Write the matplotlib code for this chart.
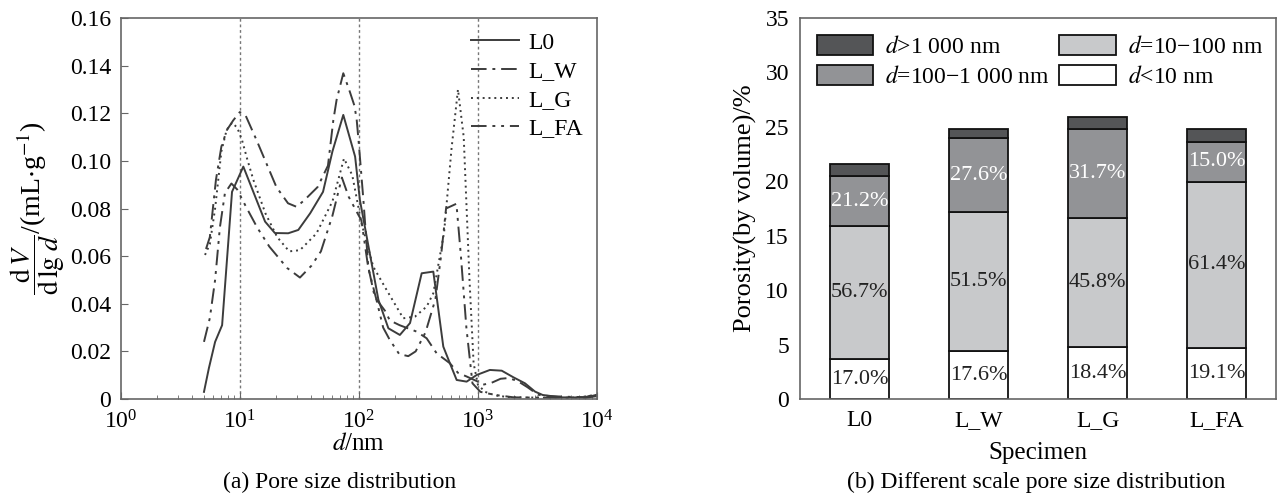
import numpy as np
import matplotlib
matplotlib.use("Agg")
import matplotlib.pyplot as plt
from matplotlib.ticker import LogLocator, FuncFormatter, NullFormatter

plt.rcParams['font.family'] = ['Liberation Serif', 'DejaVu Serif']
plt.rcParams['mathtext.fontset'] = 'stix'

# (a) pore size distribution, dV/dlg d vs d (nm)
l0_d = [5.0, 5.5, 6.2, 7.1, 8.6, 10.7, 16.3, 19.7, 25.5, 31, 39, 50, 60, 74, 93,
        102, 146, 177, 221, 269, 337, 422, 512, 582, 663, 804, 977, 1260, 1585,
        1990, 2485, 3020, 3500, 5000, 8000, 10000]
l0_v = [0.003, 0.013, 0.024, 0.031, 0.087, 0.0976, 0.0745, 0.0697, 0.0696, 0.071,
        0.078, 0.087, 0.104, 0.1193, 0.1018, 0.0836, 0.0416, 0.0297, 0.0269, 0.0319,
        0.0528, 0.0535, 0.022, 0.015, 0.008, 0.0073, 0.0101, 0.0122, 0.0119,
        0.0091, 0.0066, 0.0031, 0.0017, 0.0007, 0.0006, 0.0018]

lw_d = [5.2, 5.6, 6.3, 7.0, 7.8, 8.8, 10, 11.2, 13.8, 20.3, 25.4, 30, 35, 45, 55,
        61, 65, 74, 84, 92, 96, 100, 109, 120, 136, 166, 182, 220, 306, 371, 450,
        582, 680, 800, 980, 1100, 1300, 1550, 1800, 2150, 2600, 3200, 4000, 6000,
        8000, 10000]
lw_v = [0.063, 0.068, 0.092, 0.106, 0.113, 0.117, 0.1205, 0.119, 0.1088, 0.089,
        0.0822, 0.0807, 0.0836, 0.089, 0.098, 0.117, 0.1256, 0.1368, 0.129, 0.123,
        0.117, 0.107, 0.084, 0.0554, 0.0428, 0.037, 0.033, 0.031, 0.0283, 0.0255,
        0.0192, 0.015, 0.011, 0.0095, 0.0075, 0.006, 0.0068, 0.0085, 0.0088,
        0.0076, 0.005, 0.0018, 0.0012, 0.0009, 0.0008, 0.0022]

lg_d = [5.1, 5.6, 6.2, 7.0, 7.75, 8.6, 9.5, 10.4, 11.5, 13, 16.4, 20.6, 26, 32, 44,
        60, 75, 88, 105, 132, 171, 236, 296, 371, 422, 520, 600, 680, 760, 850,
        920, 1000, 1150, 1400, 1800, 3000, 6000, 10000]
lg_v = [0.0605, 0.065, 0.08, 0.104, 0.113, 0.116, 0.114, 0.109, 0.101, 0.092,
        0.078, 0.068, 0.062, 0.0625, 0.0695, 0.083, 0.101, 0.094, 0.074, 0.0556,
        0.0458, 0.0339, 0.0346, 0.0388, 0.0444, 0.07, 0.105, 0.130, 0.11, 0.05,
        0.015, 0.006, 0.003, 0.0015, 0.0008, 0.0006, 0.0005, 0.0015]

lfa_d = [5.0, 5.6, 6.2, 6.8, 7.5, 8.5, 9.5, 11.2, 14, 17.7, 25, 32, 40, 48, 60,
         72, 82, 95, 105, 120, 140, 160, 182, 218, 260, 300, 363, 440, 490, 540,
         660, 720, 800, 900, 1050, 1400, 2000, 3000, 5000, 8000, 10000]
lfa_v = [0.024, 0.034, 0.05, 0.072, 0.0865, 0.0905, 0.088, 0.081, 0.072, 0.064,
         0.055, 0.051, 0.056, 0.062, 0.077, 0.093, 0.085, 0.079, 0.075, 0.055,
         0.042, 0.030, 0.0248, 0.0189, 0.018, 0.020, 0.028, 0.042, 0.06, 0.08,
         0.082, 0.06, 0.03, 0.0066, 0.003, 0.0017, 0.0007, 0.0006, 0.0005,
         0.0005, 0.0012]

# (b) porosity by pore size range
specimens = ['L0', 'L_W', 'L_G', 'L_FA']
total_porosity = [21.55, 24.82, 25.9, 24.76]
share_lt10 = [17.0, 17.6, 18.4, 19.1]
share_10_100 = [56.7, 51.5, 45.8, 61.4]
share_100_1000 = [21.2, 27.6, 31.7, 15.0]
share_gt1000 = [5.1, 3.3, 4.1, 4.5]

line_col = '#3c3c3c'
frame_col = '#666666'
fs = 17

fig = plt.figure(figsize=(12.78, 5.04), dpi=100)
ax1 = fig.add_axes([0.0945, 0.2083, 0.3726, 0.756])
ax2 = fig.add_axes([0.626, 0.2083, 0.3725, 0.756])

# ---- (a)
for xv in [10, 100, 1000]:
    ax1.axvline(xv, color='#777777', lw=1.0, ls=(0, (2, 2)), zorder=1)

ax1.plot(l0_d, l0_v, color=line_col, lw=1.4, ls='-', label='L0')
ax1.plot(lw_d, lw_v, color=line_col, lw=1.4, ls=(0, (8, 3, 1.5, 3)), label='L_W')
ax1.plot(lg_d, lg_v, color=line_col, lw=1.4, ls=(0, (1, 2)), label='L_G')
ax1.plot(lfa_d, lfa_v, color=line_col, lw=1.4, ls=(0, (8, 3, 1.5, 3, 1.5, 3)), label='L_FA')

ax1.set_xscale('log')
ax1.set_xlim(1, 1e4)
ax1.set_ylim(0, 0.16)
ax1.set_yticks(np.arange(0, 0.161, 0.02))
ax1.yaxis.set_major_formatter(FuncFormatter(lambda v, p: '0' if abs(v) < 1e-9 else f'{v:.2f}'))
ax1.xaxis.set_major_locator(LogLocator(base=10, numticks=10))
ax1.xaxis.set_minor_locator(LogLocator(base=10, subs=np.arange(2, 10), numticks=20))
ax1.xaxis.set_minor_formatter(NullFormatter())
ax1.tick_params(axis='y', which='major', direction='in', length=5, labelsize=fs,
                color=frame_col, pad=7)
ax1.tick_params(axis='x', which='major', direction='in', length=5, labelsize=fs,
                color=frame_col, pad=8)
ax1.tick_params(axis='x', which='minor', direction='in', length=3, color=frame_col)
ax1.set_xlabel('$d$/nm', fontsize=fs + 1, labelpad=0)
ax1.set_ylabel(r'$\dfrac{\mathrm{d}\,V}{\mathrm{d\,lg}\;d}$/(mL$\cdot$g$^{-1}$)', fontsize=fs + 3,
               labelpad=2)
for s in ax1.spines.values():
    s.set_color(frame_col)
    s.set_linewidth(1.2)
ax1.legend(loc='upper right', frameon=False, fontsize=fs, handlelength=2.0,
           handletextpad=0.4, labelspacing=0.3, borderaxespad=0.2)

# ---- (b)
x = np.arange(len(specimens))
tot = np.array(total_porosity)
h1 = tot * np.array(share_lt10) / 100
h2 = tot * np.array(share_10_100) / 100
h3 = tot * np.array(share_100_1000) / 100
h4 = tot - h1 - h2 - h3
bw = 0.5
ek = dict(edgecolor='#111111', linewidth=1.3, width=bw, zorder=2)
b1 = ax2.bar(x, h1, color='white', **ek)
b2 = ax2.bar(x, h2, bottom=h1, color='#c8c9cb', **ek)
b3 = ax2.bar(x, h3, bottom=h1 + h2, color='#929396', **ek)
b4 = ax2.bar(x, h4, bottom=h1 + h2 + h3, color='#545557', **ek)

pf = 16
for i in range(len(x)):
    ax2.text(x[i], h1[i] / 2, f'{share_lt10[i]:.1f}%', ha='center', va='center',
             fontsize=pf, color='#222222')
    ax2.text(x[i], h1[i] + h2[i] / 2, f'{share_10_100[i]:.1f}%', ha='center', va='center',
             fontsize=pf, color='#222222')
    ax2.text(x[i], h1[i] + h2[i] + h3[i] / 2, f'{share_100_1000[i]:.1f}%', ha='center',
             va='center', fontsize=pf, color='white')

ax2.set_xlim(-0.5, 3.5)
ax2.set_ylim(0, 35)
ax2.set_yticks(np.arange(0, 36, 5))
ax2.set_xticks(x)
ax2.set_xticklabels(specimens)
ax2.tick_params(axis='both', direction='in', length=0, labelsize=fs, pad=8)
ax2.set_xlabel('Specimen', fontsize=fs + 1, labelpad=8)
ax2.set_ylabel('Porosity(by volume)/%', fontsize=fs + 2, labelpad=6)
for s in ax2.spines.values():
    s.set_color(frame_col)
    s.set_linewidth(1.2)
ax2.legend([b4, b3, b2, b1],
           ['$d$>1 000 nm', '$d$=100\u22121 000 nm', '$d$=10\u2212100 nm', '$d$<10 nm'],
           loc='upper left', ncol=2, frameon=False, fontsize=fs, handlelength=2.4,
           handleheight=0.95, handletextpad=0.5, columnspacing=0.4, labelspacing=0.3,
           borderaxespad=0.3)

fig.text(0.266, 0.043, '(a) Pore size distribution', ha='center', va='center', fontsize=fs)
fig.text(0.811, 0.043, '(b) Different scale pore size distribution', ha='center',
         va='center', fontsize=fs)

fig.savefig('out.png', dpi=100)
